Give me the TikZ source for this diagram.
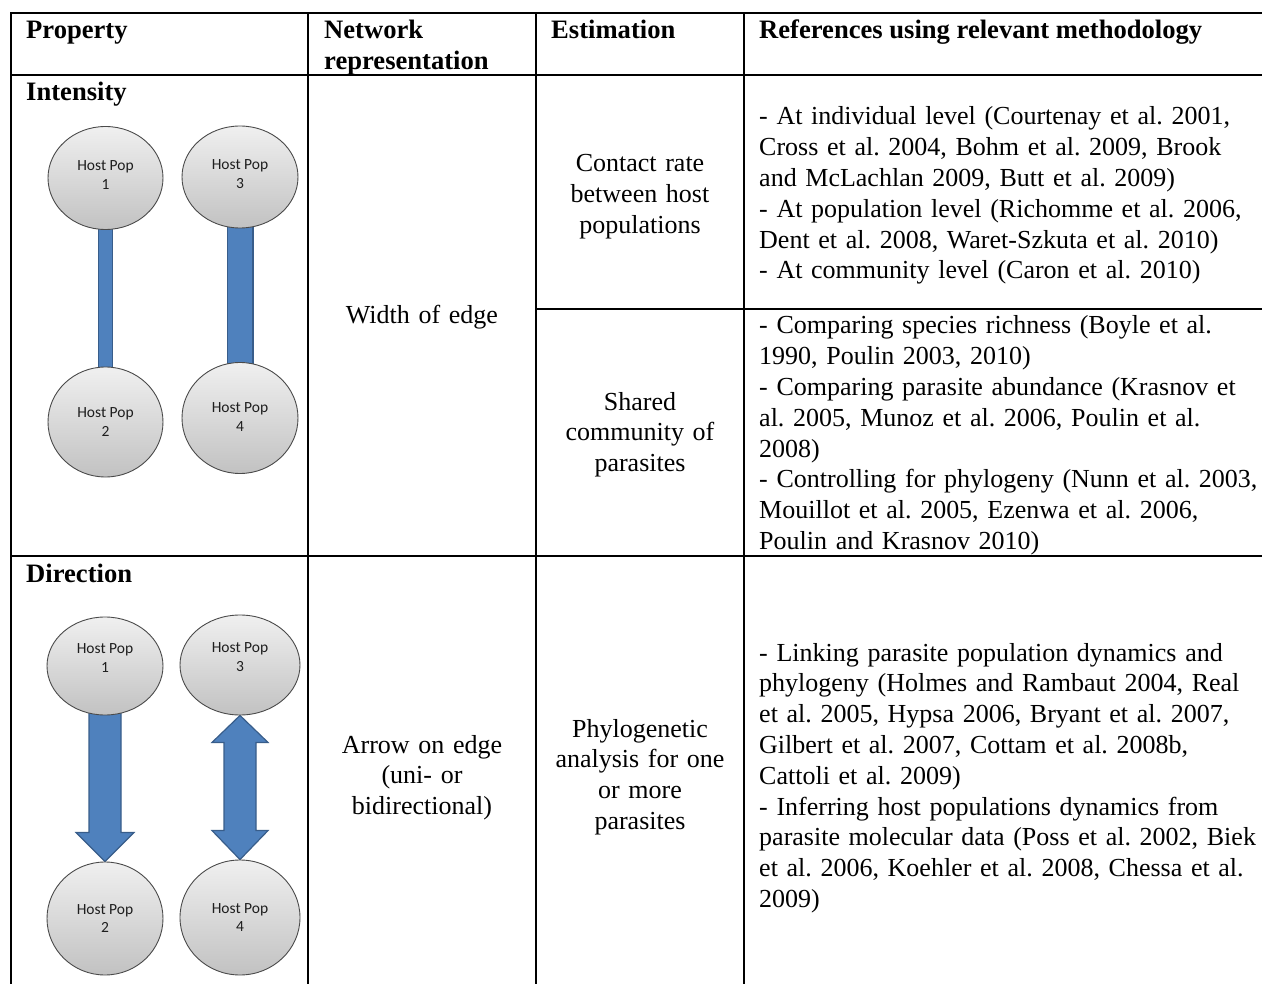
\documentclass[tikz,border=0pt]{standalone}
\usepackage{fontspec}
\setmainfont{Liberation Serif}
\newfontfamily\hostfont{Carlito}
\usetikzlibrary{shapes.geometric,calc}
\pgfdeclarelayer{bg}
\pgfsetlayers{bg,main}
\definecolor{barblue}{HTML}{4F81BD}
\definecolor{barline}{HTML}{385D8A}
\definecolor{ringline}{HTML}{4A4A4A}
\definecolor{hosttext}{HTML}{1E1E1E}
\frenchspacing
\begin{document}
\begin{tikzpicture}[x=1pt,y=-1pt,
  rule/.style={line width=2pt, black},
  body/.style={font=\fontsize{26}{30.8}\selectfont\frenchspacing, inner sep=0pt},
  head/.style={font=\fontsize{26.6}{30.8}\selectfont\bfseries, inner sep=0pt, anchor=base west},
  mid/.style={body, anchor=base, text width=205pt, align=center},
  refs/.style={body, anchor=base west, text width=700pt, align=left},
  host/.style={ellipse, draw=ringline, line width=0.9pt, top color=gray!12, bottom color=gray!48,
    inner sep=0pt},
  hosttxt/.style={inner sep=0pt, font=\hostfont\fontsize{15.5}{18.5}\selectfont, text=hosttext, align=center},
  edgebar/.style={draw=barline, line width=1.2pt, double=barblue},
  blockarrow/.style={fill=barblue, draw=barline, line width=1.2pt, line join=miter},
]
\useasboundingbox (0,0) rectangle (1262,984);

% table rules
\draw[rule] (1262,13) -- (11,13) -- (11,984);
\draw[rule] (11,75) -- (1262,75);
\draw[rule] (11,556) -- (1262,556);
\draw[rule] (536,309) -- (1262,309);
\draw[rule] (308,13) -- (308,984);
\draw[rule] (536,13) -- (536,984);
\draw[rule] (744,13) -- (744,984);

% header
\node[head] (hprop) at (26,39) {Property};
\node[head, text width=210pt, align=left] (hnet) at (324,39) {Network\\representation};
\node[head] (hest) at (551,39) {Estimation};
\node[head] (href) at (759,39) {References using relevant methodology};

% row labels
\node[head] (hint) at (26,101) {Intensity};
\node[head] (hdir) at (26,582) {Direction};

% host populations, intensity
\node[host, minimum width=115pt, minimum height=103pt] (c1) at (105.5,178) {};
\node[host, minimum width=116pt, minimum height=102pt] (c3) at (240,177) {};
\node[host, minimum width=115pt, minimum height=110pt] (c2) at (105.5,422) {};
\node[host, minimum width=116pt, minimum height=111pt] (c4) at (240,418) {};
\node[hosttxt] (c1t) at ($(c1.center)+(0,-3)$) {Host Pop\\1};
\node[hosttxt] (c3t) at ($(c3.center)+(0,-3)$) {Host Pop\\3};
\node[hosttxt] (c2t) at (c2.center) {Host Pop\\2};
\node[hosttxt] (c4t) at ($(c4.center)+(0,-1)$) {Host Pop\\4};

% host populations, direction
\node[host, minimum width=116pt, minimum height=98pt] (d1) at (105,666) {};
\node[host, minimum width=120pt, minimum height=100pt] (d3) at (240,665) {};
\node[host, minimum width=116pt, minimum height=113pt] (d2) at (105,918.5) {};
\node[host, minimum width=120pt, minimum height=115pt] (d4) at (240,917.5) {};
\node[hosttxt] (d1t) at ($(d1.center)+(0,-8)$) {Host Pop\\1};
\node[hosttxt] (d3t) at ($(d3.center)+(0,-8)$) {Host Pop\\3};
\node[hosttxt] (d2t) at (d2.center) {Host Pop\\2};
\node[hosttxt] (d4t) at (d4.center) {Host Pop\\4};

\begin{pgfonlayer}{bg}
  \draw[edgebar, double distance=12.6pt] (c1.center) -- (c2.center);
  \draw[edgebar, double distance=24.6pt] (c3.center) -- (c4.center);
  \draw[blockarrow] ($(d1.center)+(-16,0)$) -- ($(d2.north)+(-16,-29)$) -- ($(d2.north)+(-29,-29)$)
     -- (d2.north) -- ($(d2.north)+(29,-29)$) -- ($(d2.north)+(16,-29)$) -- ($(d1.center)+(16,0)$) -- cycle;
  \draw[blockarrow] (d3.south) -- ($(d3.south)+(28,27)$) -- ($(d3.south)+(16,27)$)
     -- ($(d4.north)+(16,-29)$) -- ($(d4.north)+(28,-29)$) -- (d4.north)
     -- ($(d4.north)+(-28,-29)$) -- ($(d4.north)+(-16,-29)$)
     -- ($(d3.south)+(-16,27)$) -- ($(d3.south)+(-28,27)$) -- cycle;
\end{pgfonlayer}

% network representation and estimation
\node[mid] (width) at (422,324) {Width of edge};
\node[mid] (contact) at (640,172) {Contact rate\\between host\\populations};
\node[mid] (shared) at (640,410) {Shared\\community of\\parasites};
\node[mid] (arrowedge) at (422,753) {Arrow on edge\\(uni- or\\bidirectional)};
\node[mid] (phylo) at (640,737) {Phylogenetic\\analysis for one\\or more\\parasites};

% references
\node[refs] (r1) at (759,125) {- At individual level (Courtenay et al. 2001,\\
Cross et al. 2004, Bohm et al. 2009, Brook\\
and McLachlan 2009, Butt et al. 2009)\\
- At population level (Richomme et al. 2006,\\
Dent et al. 2008, Waret-Szkuta et al. 2010)\\
- At community level (Caron et al. 2010)};
\node[refs] (r2) at (759,334) {- Comparing species richness (Boyle et al.\\
1990, Poulin 2003, 2010)\\
- Comparing parasite abundance (Krasnov et\\
al. 2005, Munoz et al. 2006, Poulin et al.\\
2008)\\
- Controlling for phylogeny (Nunn et al. 2003,\\
Mouillot et al. 2005, Ezenwa et al. 2006,\\
Poulin and Krasnov 2010)};
\node[refs] (r3) at (759,661) {- Linking parasite population dynamics and\\
phylogeny (Holmes and Rambaut 2004, Real\\
et al. 2005, Hypsa 2006, Bryant et al. 2007,\\
Gilbert et al. 2007, Cottam et al. 2008b,\\
Cattoli et al. 2009)\\
- Inferring host populations dynamics from\\
parasite molecular data (Poss et al. 2002, Biek\\
et al. 2006, Koehler et al. 2008, Chessa et al.\\
2009)};
\end{tikzpicture}
\end{document}
